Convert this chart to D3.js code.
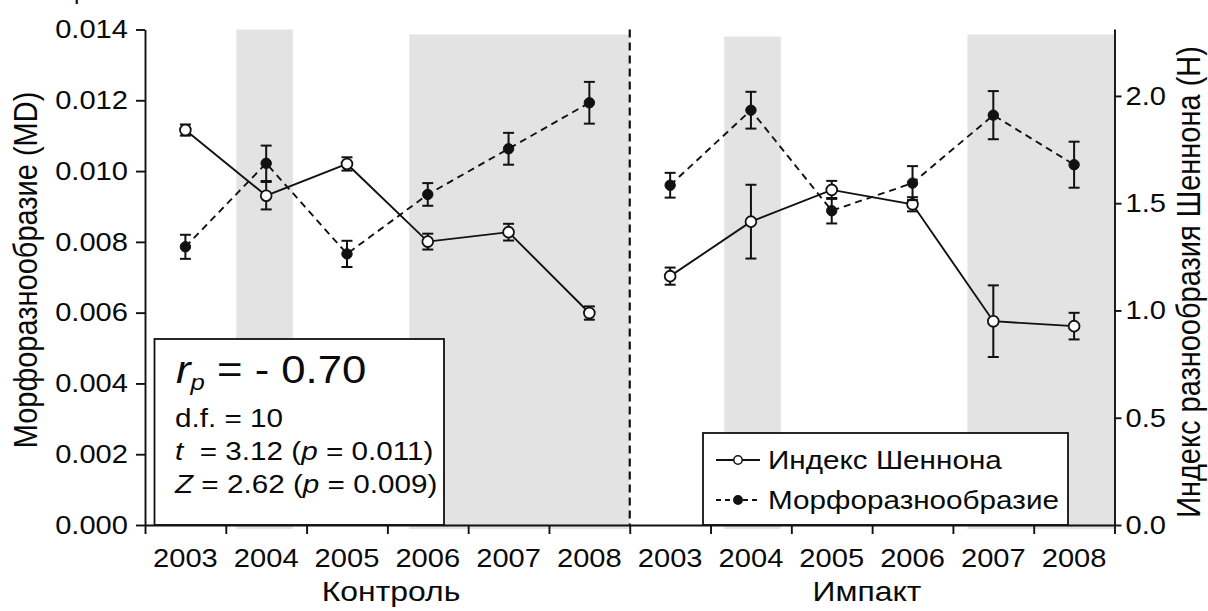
<!DOCTYPE html>
<html>
<head>
<meta charset="utf-8">
<script src="https://cdn.jsdelivr.net/npm/d3@7"></script>
<style>
  html, body { margin: 0; padding: 0; background: #fff; }
  svg { display: block; }
  text { font-family: "Liberation Sans", Arial, sans-serif; fill: #0a0a0a; }
</style>
</head>
<body>
<svg id="chart" width="1208" height="611"></svg>
<script>
// Years sampled in each site group
const years = ["2003", "2004", "2005", "2006", "2007", "2008"];
const groups = ["Контроль", "Импакт"];

// Morphological diversity (MD), mean and error
const mdControl    = [0.00786, 0.01022, 0.00766, 0.00934, 0.01063, 0.01193];
const mdControlErr = [0.00034, 0.00050, 0.00037, 0.00032, 0.00045, 0.00059];
const mdImpact     = [0.00960, 0.01172, 0.00888, 0.00966, 0.01158, 0.01018];
const mdImpactErr  = [0.00035, 0.00052, 0.00036, 0.00048, 0.00068, 0.00065];

// Shannon diversity index (H), mean and error
const hControl    = [1.841, 1.535, 1.683, 1.321, 1.365, 0.988];
const hControlErr = [0.026, 0.064, 0.031, 0.037, 0.039, 0.031];
const hImpact     = [1.160, 1.414, 1.562, 1.495, 0.950, 0.927];
const hImpactErr  = [0.040, 0.172, 0.042, 0.033, 0.167, 0.062];

// Shaded periods, in slot units along the x axis (0..12), top in MD units
const bandFrom = [1.13, 3.27, 7.17, 10.18];
const bandTo   = [1.83, 6.00, 7.87, 12.00];
const bandTop  = [0.01400, 0.01386, 0.01380, 0.01386];

// Tick values
const mdTicks = [0, 0.002, 0.004, 0.006, 0.008, 0.010, 0.012, 0.014];
const hTicks = [0, 0.5, 1.0, 1.5, 2.0];

// Statistics box text
const statR = "- 0.70";
const statDf = "d.f. = 10";
const statT = ["3.12", "0.011"];
const statZ = ["2.62", "0.009"];

// Legend entries
const legendLabels = ["Индекс Шеннона", "Морфоразнообразие"];

// Axis titles
const leftTitle = "Морфоразнообразие (MD)";
const rightTitle = "Индекс разнообразия Шеннона (H)";

const SX = 1.12; // horizontal widening of glyphs
const svg = d3.select("#chart");

const plotL = 145, plotR = 1114.5, plotB = 525, plotT = 29.5;
const xu = d3.scaleLinear().domain([0, 12]).range([plotL, plotR]);
const yL = d3.scaleLinear().domain([0, 0.014]).range([plotB, plotT]);
const yR = d3.scaleLinear().domain([0, 2.312]).range([plotB, 29]);

function wideText(sel, x, y, anchor) {
  return sel.attr("transform", `translate(${x},${y}) scale(${SX},1)`)
            .attr("text-anchor", anchor || "start");
}

// Shaded periods
svg.append("g").selectAll("rect")
  .data(bandFrom.map((f, i) => ({ f, t: bandTo[i], top: bandTop[i] })))
  .join("rect")
  .attr("x", d => xu(d.f))
  .attr("width", d => xu(d.t) - xu(d.f))
  .attr("y", d => yL(d.top))
  .attr("height", d => plotB + 4 - yL(d.top))
  .attr("fill", "#e3e3e3");

// Divider between the two site groups
svg.append("line")
  .attr("x1", xu(6)).attr("x2", xu(6))
  .attr("y1", yL(0.014)).attr("y2", plotB)
  .attr("stroke", "#111").attr("stroke-width", 2.2)
  .attr("stroke-dasharray", "8,5");

// Series drawing
function drawSeries(vals, errs, offset, yScale, filled) {
  const pts = vals.map((v, i) => ({ x: xu(offset + i + 0.5), v, e: errs[i] }));
  const g = svg.append("g");
  g.append("path")
    .attr("d", d3.line().x(d => d.x).y(d => yScale(d.v))(pts))
    .attr("fill", "none").attr("stroke", "#111").attr("stroke-width", 1.9)
    .attr("stroke-dasharray", filled ? "7,5" : null);
  const eb = g.selectAll("g.err").data(pts).join("g");
  eb.append("line")
    .attr("x1", d => d.x).attr("x2", d => d.x)
    .attr("y1", d => yScale(d.v - d.e)).attr("y2", d => yScale(d.v + d.e))
    .attr("stroke", "#111").attr("stroke-width", 2);
  [1, -1].forEach(s => {
    eb.append("line")
      .attr("x1", d => d.x - 5.5).attr("x2", d => d.x + 5.5)
      .attr("y1", d => yScale(d.v + s * d.e)).attr("y2", d => yScale(d.v + s * d.e))
      .attr("stroke", "#111").attr("stroke-width", 2);
  });
  g.selectAll("circle").data(pts).join("circle")
    .attr("cx", d => d.x).attr("cy", d => yScale(d.v))
    .attr("r", filled ? 5.2 : 5.4)
    .attr("fill", filled ? "#111" : "#fff")
    .attr("stroke", "#111").attr("stroke-width", filled ? 1 : 1.8);
}

// Statistics box (under the points)
const sb = svg.append("g");
sb.append("rect").attr("x", 154.5).attr("y", 339).attr("width", 289.5).attr("height", plotB - 339)
  .attr("fill", "#fff").attr("stroke", "#111").attr("stroke-width", 1.8);
const r1 = wideText(sb.append("text"), 176, 383).attr("font-size", 39);
r1.append("tspan").attr("font-style", "italic").text("r");
r1.append("tspan").attr("font-style", "italic").attr("font-size", 23).attr("dy", 7).text("p");
r1.append("tspan").attr("dy", -7).text(" = " + statR);
wideText(sb.append("text"), 175, 427).attr("font-size", 26.5).text(statDf);
const t1 = wideText(sb.append("text"), 175, 460).attr("font-size", 26.5).style("white-space", "pre");
t1.append("tspan").attr("font-style", "italic").text("t");
t1.append("tspan").text("  = " + statT[0] + " (");
t1.append("tspan").attr("font-style", "italic").text("p");
t1.append("tspan").text(" = " + statT[1] + ")");
const z1 = wideText(sb.append("text"), 175, 493).attr("font-size", 26.5);
z1.append("tspan").attr("font-style", "italic").text("Z");
z1.append("tspan").text(" = " + statZ[0] + " (");
z1.append("tspan").attr("font-style", "italic").text("p");
z1.append("tspan").text(" = " + statZ[1] + ")");

// Legend box
const lg = svg.append("g");
lg.append("rect").attr("x", 703).attr("y", 433).attr("width", 365).attr("height", plotB - 433)
  .attr("fill", "#fff").attr("stroke", "#111").attr("stroke-width", 1.8);
const legRows = [460, 500];
legRows.forEach((y, i) => {
  lg.append("line").attr("x1", 716).attr("x2", 760).attr("y1", y).attr("y2", y)
    .attr("stroke", "#111").attr("stroke-width", 1.8)
    .attr("stroke-dasharray", i === 1 ? "5,4" : null);
  lg.append("circle").attr("cx", 738).attr("cy", y).attr("r", 4.2)
    .attr("fill", i === 1 ? "#111" : "#fff").attr("stroke", "#111").attr("stroke-width", 1.5);
  wideText(lg.append("text"), 768, y + 9).attr("font-size", 26.5).text(legendLabels[i]);
});

drawSeries(hControl, hControlErr, 0, yR, false);
drawSeries(mdControl, mdControlErr, 0, yL, true);
drawSeries(hImpact, hImpactErr, 6, yR, false);
drawSeries(mdImpact, mdImpactErr, 6, yL, true);

// Axes
function styleAxis(g) {
  g.selectAll("path.domain").attr("stroke", "#111").attr("stroke-width", 1.9);
  g.selectAll(".tick line").attr("stroke", "#111").attr("stroke-width", 1.9);
  g.selectAll(".tick text").attr("font-size", 26).attr("fill", "#0a0a0a")
    .attr("font-family", "'Liberation Sans', Arial, sans-serif");
}

const gL = svg.append("g").attr("transform", `translate(${plotL},0)`)
  .call(d3.axisLeft(yL).tickValues(mdTicks).tickFormat(d3.format(".3f")).tickSize(9).tickSizeOuter(0).tickPadding(8));
styleAxis(gL);
gL.selectAll(".tick text").attr("x", -17 / SX).attr("transform", `scale(${SX},1)`);

const gR = svg.append("g").attr("transform", `translate(${plotR},0)`)
  .call(d3.axisRight(yR).tickValues(hTicks).tickFormat(d3.format(".1f")).tickSize(7).tickSizeOuter(0));
styleAxis(gR);
gR.selectAll(".tick text").attr("x", 11 / SX).attr("transform", `scale(${SX},1)`);

const gX = svg.append("g").attr("transform", `translate(0,${plotB})`)
  .call(d3.axisBottom(xu).tickValues(d3.range(0, 13)).tickFormat("").tickSize(9).tickSizeOuter(0));
styleAxis(gX);

// Year labels under each slot
groups.forEach((grp, gi) => {
  years.forEach((yr, i) => {
    wideText(svg.append("text"), xu(gi * 6 + i + 0.5), 567, "middle").attr("font-size", 26).text(yr);
  });
});
// Group labels
wideText(svg.append("text"), 391, 601, "middle").attr("font-size", 28.5).text(groups[0]);
wideText(svg.append("text"), 867, 601, "middle").attr("font-size", 28.5).text(groups[1]);

// Axis titles (rotated; widening applies across the glyph height on screen)
svg.append("text")
  .attr("transform", `translate(37,270) rotate(-90) scale(1,${SX})`)
  .attr("text-anchor", "middle").attr("font-size", 29).text(leftTitle);
svg.append("text")
  .attr("transform", `translate(1200,282) rotate(-90) scale(1,${SX})`)
  .attr("text-anchor", "middle").attr("font-size", 29).text(rightTitle);

// Cut-off line of caption text above the chart
svg.append("text").attr("x", 74).attr("y", -1)
  .attr("font-family", "'Liberation Serif', serif").attr("font-size", 24).text("р");
</script>
</body>
</html>
